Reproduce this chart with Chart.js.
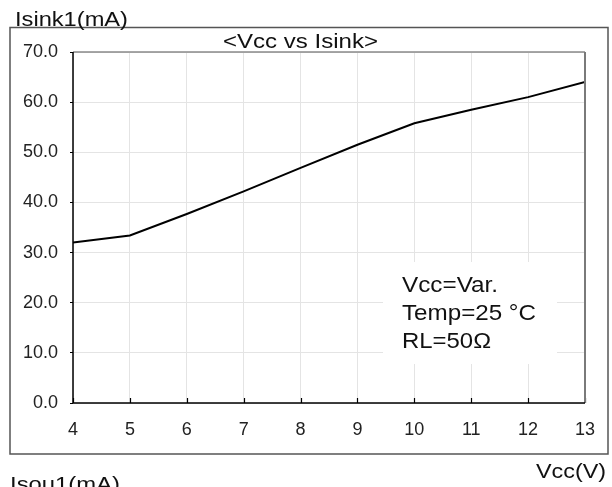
<!DOCTYPE html>
<html>
<head>
<meta charset="utf-8">
<script src="https://cdn.jsdelivr.net/npm/chart.js@4.4.1/dist/chart.umd.min.js"></script>
<style>
html,body{margin:0;padding:0;background:#fff;}
#wrap{width:612px;height:487px;position:relative;}
</style>
</head>
<body>
<div id="wrap"><canvas id="c" width="612" height="487"></canvas></div>
<script>
// ---- data ----
const vccValues = [4, 5, 6, 7, 8, 9, 10, 11, 12, 13];
const isinkValues = [32.0, 33.4, 37.7, 42.2, 46.9, 51.5, 55.8, 58.5, 61.0, 64.0];
const yTickMin = 0, yTickMax = 70, yTickStep = 10;
const xTickMin = 4, xTickMax = 13, xTickStep = 1;
const titleText = "<Vcc vs Isink>";
const yAxisTitle = "Isink1(mA)";
const xAxisTitle = "Vcc(V)";
const nextChartTitle = "Isou1(mA)";
const noteLines = ["Vcc=Var.", "Temp=25 \u00B0C", "RL=50\u03A9"];

const FONT = "'Liberation Sans', Arial, Helvetica, sans-serif";

function drawStretched(ctx, text, x, y, size, width, align) {
  ctx.save();
  ctx.font = size + "px " + FONT;
  ctx.textBaseline = "alphabetic";
  ctx.textAlign = "left";
  const w = ctx.measureText(text).width;
  const sx = width ? width / w : 1;
  let left = x;
  if (align === "center") left = x - (w * sx) / 2;
  else if (align === "right") left = x - w * sx;
  ctx.translate(left, y);
  ctx.scale(sx, 1);
  ctx.fillStyle = "#111";
  ctx.fillText(text, 0, 0);
  ctx.restore();
}

const decor = {
  id: "decor",
  beforeDatasetsDraw(chart) {
    const ctx = chart.ctx;
    ctx.save();
    ctx.fillStyle = "#fff";
    ctx.fillRect(383, 262, 174, 102);
    ctx.restore();
  },
  afterDatasetsDraw(chart) {
    const ctx = chart.ctx;
    const a = chart.chartArea;
    const xs = chart.scales.x;
    ctx.save();
    ctx.strokeStyle = "#000";
    ctx.lineWidth = 1.2;
    xs.ticks.forEach(t => {
      const px = Math.round(xs.getPixelForValue(t.value)) + 0.5;
      ctx.beginPath();
      ctx.moveTo(px, a.bottom);
      ctx.lineTo(px, a.bottom - 5);
      ctx.stroke();
    });
    ctx.strokeStyle = "#8a8a8a";
    ctx.lineWidth = 1.5;
    ctx.beginPath();
    ctx.moveTo(a.left, a.top);
    ctx.lineTo(a.right, a.top);
    ctx.stroke();
    ctx.strokeStyle = "#7a7a7a";
    ctx.lineWidth = 2;
    ctx.beginPath();
    ctx.moveTo(a.right, a.top);
    ctx.lineTo(a.right, a.bottom);
    ctx.stroke();
    ctx.strokeStyle = "#000";
    ctx.lineWidth = 1.5;
    ctx.beginPath();
    ctx.moveTo(a.left, a.top);
    ctx.lineTo(a.left, a.bottom);
    ctx.lineTo(a.right, a.bottom);
    ctx.stroke();
    ctx.strokeStyle = "#555";
    ctx.lineWidth = 1.5;
    ctx.strokeRect(10, 27.5, 598, 426.5);
    ctx.restore();

    drawStretched(ctx, yAxisTitle, 15, 25.5, 20, 113, "left");
    drawStretched(ctx, titleText, 300.5, 48, 21, 155, "center");
    drawStretched(ctx, xAxisTitle, 606, 478, 21, 70, "right");
    drawStretched(ctx, nextChartTitle, 10, 491, 20, 110, "left");
    const noteWidths = [96, 134, 89];
    const noteBase = [291.7, 320, 348.3];
    noteLines.forEach((t, i) => drawStretched(ctx, t, 402, noteBase[i], 22, noteWidths[i], "left"));
  }
};

new Chart(document.getElementById("c"), {
  type: "line",
  data: {
    datasets: [{
      data: vccValues.map((v, i) => ({ x: v, y: isinkValues[i] })),
      borderColor: "#000",
      borderWidth: 2,
      pointRadius: 0,
      tension: 0,
      fill: false
    }]
  },
  options: {
    responsive: false,
    animation: false,
    devicePixelRatio: 1,
    layout: { padding: { left: 10, top: 52, right: 27, bottom: 40 } },
    plugins: { legend: { display: false }, tooltip: { enabled: false }, title: { display: false } },
    scales: {
      x: {
        type: "linear",
        min: xTickMin, max: xTickMax,
        ticks: { stepSize: xTickStep, color: "#222", font: { family: FONT, size: 18 }, padding: 16, maxRotation: 0 },
        grid: { color: "#e4e4e4", lineWidth: 1, drawTicks: false },
        border: { display: false },
        afterFit(s) { s.height = 44; }
      },
      y: {
        type: "linear",
        min: yTickMin, max: yTickMax,
        ticks: { stepSize: yTickStep, color: "#222", font: { family: FONT, size: 18 }, padding: 12,
                 callback: v => Number(v).toFixed(1) },
        grid: { color: "#e4e4e4", lineWidth: 1, drawTicks: true, tickLength: 3, tickColor: "#000" },
        border: { display: false },
        afterFit(s) { s.width = 63; }
      }
    }
  },
  plugins: [decor]
});
</script>
</body>
</html>
